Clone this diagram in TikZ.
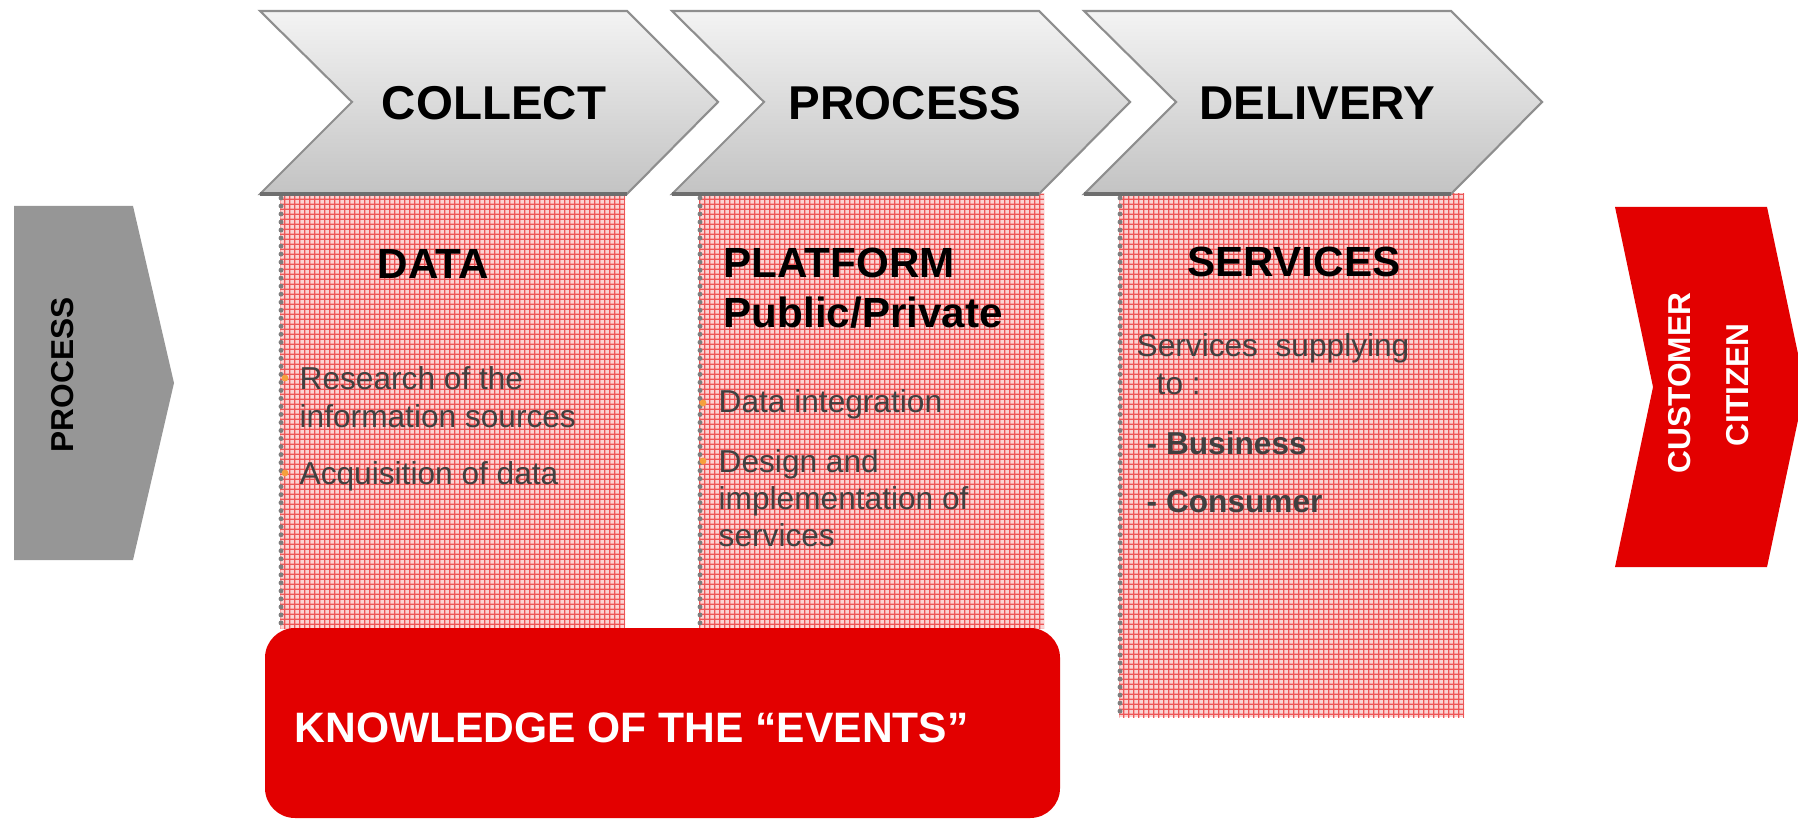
\documentclass[tikz,border=0pt]{standalone}
\usepackage{fontspec}
\setmainfont{Liberation Sans}
\usetikzlibrary{patterns.meta}
\definecolor{chevtop}{HTML}{F3F3F3}
\definecolor{chevbot}{HTML}{C3C3C3}
\definecolor{chevline}{HTML}{8E8E8E}
\definecolor{chevshadow}{HTML}{6E6E6E}
\definecolor{pinkbg}{HTML}{FBD4D4}
\definecolor{pinkline}{HTML}{EE5656}
\definecolor{brandred}{HTML}{E30000}
\definecolor{procgrey}{HTML}{969696}
\definecolor{bodygrey}{HTML}{404040}
\definecolor{bulletor}{HTML}{F5A03C}
\definecolor{dotgrey}{HTML}{7E7E7E}
\tikzdeclarepattern{
  name=checks,
  type=uncolored,
  bounding box={(0pt,0pt) and (1.42pt,1.42pt)},
  tile size={(1.42pt,1.42pt)},
  code={
    \fill (0pt,0pt) rectangle (1.42pt,0.42pt);
    \fill (0pt,0pt) rectangle (0.42pt,1.42pt);
  }
}
\tikzset{
  chev/.style={top color=chevtop, bottom color=chevbot, draw=chevline, line width=0.6pt, line join=miter},
  chevshade/.style={draw=chevshadow, line width=1.2pt},
  chevlabel/.style={font=\bfseries\fontsize{13.5}{16}\selectfont, text=black, anchor=base, inner sep=0pt},
  pinkfill/.style={fill=pinkbg},
  pinkpat/.style={pattern={checks}, pattern color=pinkline},
  dotborder/.style={draw=dotgrey, line width=1.4pt, line cap=round, dash pattern=on 0pt off 2.28pt},
  heading/.style={font=\bfseries\fontsize{12}{14}\selectfont, text=black, inner sep=0pt},
  body/.style={font=\fontsize{9}{11}\selectfont, text=bodygrey, anchor=base west, inner sep=0pt},
  bodybold/.style={body, font=\bfseries\fontsize{9}{11}\selectfont},
  bulletdot/.style={fill=bulletor},
  sidelabel/.style={font=\bfseries\fontsize{9}{11}\selectfont, rotate=90, inner sep=0pt},
}
\begin{document}
\begin{tikzpicture}[x=0.01cm, y=-0.01cm]
\useasboundingbox (0,0) rectangle (1798,819);
\clip (0,0) rectangle (1798,819);

% pink column boxes
\foreach \L/\B in {280/628, 699/628, 1119/717}{
  \fill[pinkfill] (\L,194) rectangle (\L+345,\B);
  \fill[pinkpat] (\L,194) rectangle (\L+345,\B);
  \draw[dotborder] (\L+1,198) -- (\L+1,\B);
}

% chevrons
\foreach \L in {260, 672, 1084}{
  \path[chev] (\L,11) -- (\L+367,11) -- (\L+458,102) -- (\L+367,194) -- (\L,194) -- (\L+92,102) -- cycle;
  \draw[chevshade] (\L,194) -- (\L+367,194);
}
\node[chevlabel] (collect) at (494,120) {COLLECT};
\node[chevlabel] (process) at (905,120) {PROCESS};
\node[chevlabel] (delivery) at (1317,120) {DELIVERY};

% left grey arrow
\fill[procgrey] (14,206) -- (133,206) -- (174,383) -- (133,560) -- (14,560) -- cycle;
\node[sidelabel, text=black] (proclabel) at (63,375) {PROCESS};

% right red arrow
\fill[brandred] (1615,207) -- (1767,207) -- (1805,387) -- (1767,567) -- (1615,567) -- (1653,387) -- cycle;
\node[sidelabel, text=white] (customer) at (1680,383) {CUSTOMER};
\node[sidelabel, text=white] (citizen) at (1738,385) {CITIZEN};

% column 1
\node[heading, anchor=base] (data) at (433,279) {DATA};
\fill[bulletdot] (285,378) circle[radius=3.4];
\fill[bulletdot] (285,473) circle[radius=3.4];
\node[body] (r1) at (299,390) {Research of the};
\node[body] (r2) at (299,428) {information sources};
\node[body] (r3) at (299,485) {Acquisition of data};

% column 2
\node[heading, anchor=base west] (platform) at (723,278) {PLATFORM};
\node[heading, anchor=base west] (pubpriv) at (723,328) {Public/Private};
\fill[bulletdot] (703,403) circle[radius=3.4];
\fill[bulletdot] (703,461) circle[radius=3.4];
\node[body] (p1) at (718,413) {Data integration};
\node[body] (p2) at (718,472) {Design and};
\node[body] (p3) at (718,510) {implementation of};
\node[body] (p4) at (718,547) {services};

% column 3
\node[heading, anchor=base] (services) at (1294,277) {SERVICES};
\node[body] (s1) at (1136,357) {Services\ \ supplying};
\node[body] (s2) at (1156,395) {to :};
\node[bodybold] (s3) at (1146,455) {- Business};
\node[bodybold] (s4) at (1146,512) {- Consumer};

% knowledge box
\fill[brandred, rounded corners=8.5pt] (265,628) rectangle (1060,818);
\node[font=\bfseries\fontsize{12.1}{14}\selectfont, text=white, anchor=base west, inner sep=0pt] (knowledge) at (294,742) {KNOWLEDGE OF THE “EVENTS”};
\end{tikzpicture}
\end{document}
